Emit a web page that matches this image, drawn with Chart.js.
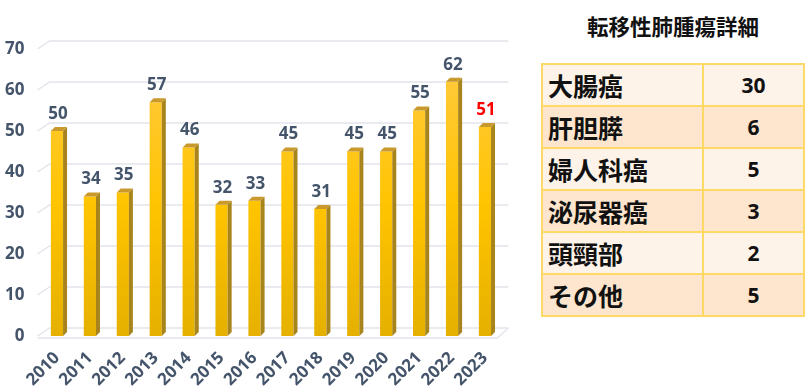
<!DOCTYPE html>
<html><head><meta charset="utf-8">
<script src="https://cdn.jsdelivr.net/npm/chart.js@4.4.1/dist/chart.umd.min.js"></script>
<style>
html,body{margin:0;padding:0;background:#fff;width:810px;height:392px;overflow:hidden;}
#wrap{position:absolute;left:0;top:0;width:530px;height:392px;}
#title{position:absolute;left:541px;width:264px;top:11px;text-align:center;font-family:"Noto Sans CJK JP";font-weight:bold;font-size:21.5px;color:#111;line-height:30px;}
#tbl{position:absolute;left:541px;top:63px;width:264px;height:253px;border-collapse:collapse;table-layout:fixed;}
#tbl td{border:2px solid #FFD966;font-weight:bold;color:#111;padding:0;height:40px;line-height:1;}
#tbl td.k{font-family:"Noto Sans CJK JP";font-size:25px;padding-left:5px;width:154px;}
#tbl td.v{font-family:"Open Sans";font-size:21px;text-align:center;}
#tbl tr.a td{background:#FEF3E8;}
#tbl tr.b td{background:#FDE6CD;}
</style></head>
<body>
<div id="wrap"><canvas id="c" width="530" height="392"></canvas></div>
<div id="title"></div>
<table id="tbl"></table>
<script>
const years = ['2010','2011','2012','2013','2014','2015','2016','2017','2018','2019','2020','2021','2022','2023'];
const counts = [50,34,35,57,46,32,33,45,31,45,45,55,62,51];
const yTicks = [0,10,20,30,40,50,60,70];
const tableTitle = '転移性肺腫瘍詳細';
const tableLabels = ['大腸癌','肝胆膵','婦人科癌','泌尿器癌','頭頸部','その他'];
const tableValues = [30,6,5,3,2,5];

document.getElementById('title').textContent = tableTitle;
const tbl = document.getElementById('tbl');
tableLabels.forEach((l,i)=>{
  const tr = document.createElement('tr');
  tr.className = i%2===0 ? 'a' : 'b';
  const k = document.createElement('td'); k.className='k'; k.textContent=l;
  const v = document.createElement('td'); v.className='v'; v.textContent=tableValues[i];
  tr.appendChild(k); tr.appendChild(v); tbl.appendChild(tr);
});

const AXIS = '#44546A';
const DEPTH_X = 4, DEPTH_Y = 4;

const gridPlugin = {
  id:'grid3d',
  beforeDatasetsDraw(chart){
    const ctx = chart.ctx, a = chart.chartArea, y = chart.scales.y;
    ctx.save();
    ctx.strokeStyle = '#E3E5EC';
    ctx.lineWidth = 1.5;
    yTicks.forEach(v=>{
      const py = y.getPixelForValue(v);
      ctx.beginPath();
      ctx.moveTo(a.left-3, py);
      ctx.lineTo(a.left+9, py-8);
      ctx.lineTo(a.right+7, py-8);
      ctx.stroke();
    });
    const p0 = y.getPixelForValue(0);
    ctx.beginPath();
    ctx.moveTo(a.left-3, p0+2);
    ctx.lineTo(a.right-4, p0+2);
    ctx.lineTo(a.right+7, p0-8);
    ctx.stroke();
    ctx.restore();
  }
};

const barPlugin = {
  id:'bar3d',
  afterDatasetsDraw(chart){
    const ctx = chart.ctx;
    const meta = chart.getDatasetMeta(0);
    ctx.save();
    meta.data.forEach((bar,i)=>{
      const half = bar.width/2;
      const l = bar.x-half, r = bar.x+half, t = bar.y, b = bar.base;
      ctx.fillStyle = '#A8841C';
      ctx.beginPath();
      ctx.moveTo(r,t); ctx.lineTo(r+DEPTH_X,t-DEPTH_Y); ctx.lineTo(r+DEPTH_X,b-DEPTH_Y); ctx.lineTo(r,b); ctx.closePath(); ctx.fill();
      ctx.fillStyle = '#C9992C';
      ctx.beginPath();
      ctx.moveTo(l,t); ctx.lineTo(l+DEPTH_X,t-DEPTH_Y); ctx.lineTo(r+DEPTH_X,t-DEPTH_Y); ctx.lineTo(r,t); ctx.closePath(); ctx.fill();
      ctx.font = 'bold 17px "Open Sans"';
      ctx.textAlign = 'center';
      ctx.textBaseline = 'middle';
      ctx.fillStyle = i === counts.length-1 ? '#FF0000' : AXIS;
      ctx.fillText(String(counts[i]), bar.x+1, t-17);
    });
    ctx.restore();
  }
};

new Chart(document.getElementById('c'), {
  type:'bar',
  data:{
    labels: years,
    datasets:[{
      data: counts,
      backgroundColor(c){
        const a = c.chart.chartArea;
        if(!a) return '#FFC000';
        const g = c.chart.ctx.createLinearGradient(0,a.top,0,a.bottom);
        g.addColorStop(0,'#FFCB45');
        g.addColorStop(0.55,'#FFC400');
        g.addColorStop(1,'#E5B000');
        return g;
      },
      borderWidth:0,
      barPercentage:0.37,
      categoryPercentage:1
    }]
  },
  options:{
    responsive:false,
    animation:false,
    devicePixelRatio:1,
    layout:{padding:{top:49,right:28.6,left:0,bottom:0}},
    plugins:{legend:{display:false},tooltip:{enabled:false}},
    scales:{
      x:{
        offset:true,
        grid:{display:false,drawTicks:false},
        border:{display:false},
        afterFit(s){ s.height = 56; },
        ticks:{autoSkip:false,minRotation:45,maxRotation:45,padding:12,color:AXIS,font:{family:'Open Sans',weight:'bold',size:17}}
      },
      y:{
        min:0,max:70,
        grid:{display:false,drawTicks:false},
        border:{display:false},
        afterFit(s){ s.width = 40.5; },
        afterBuildTicks(s){ s.ticks = yTicks.map(v=>({value:v})); },
        ticks:{padding:16,color:AXIS,font:{family:'Open Sans',weight:'bold',size:17}}
      }
    }
  },
  plugins:[gridPlugin,barPlugin]
});
</script>
</body></html>
